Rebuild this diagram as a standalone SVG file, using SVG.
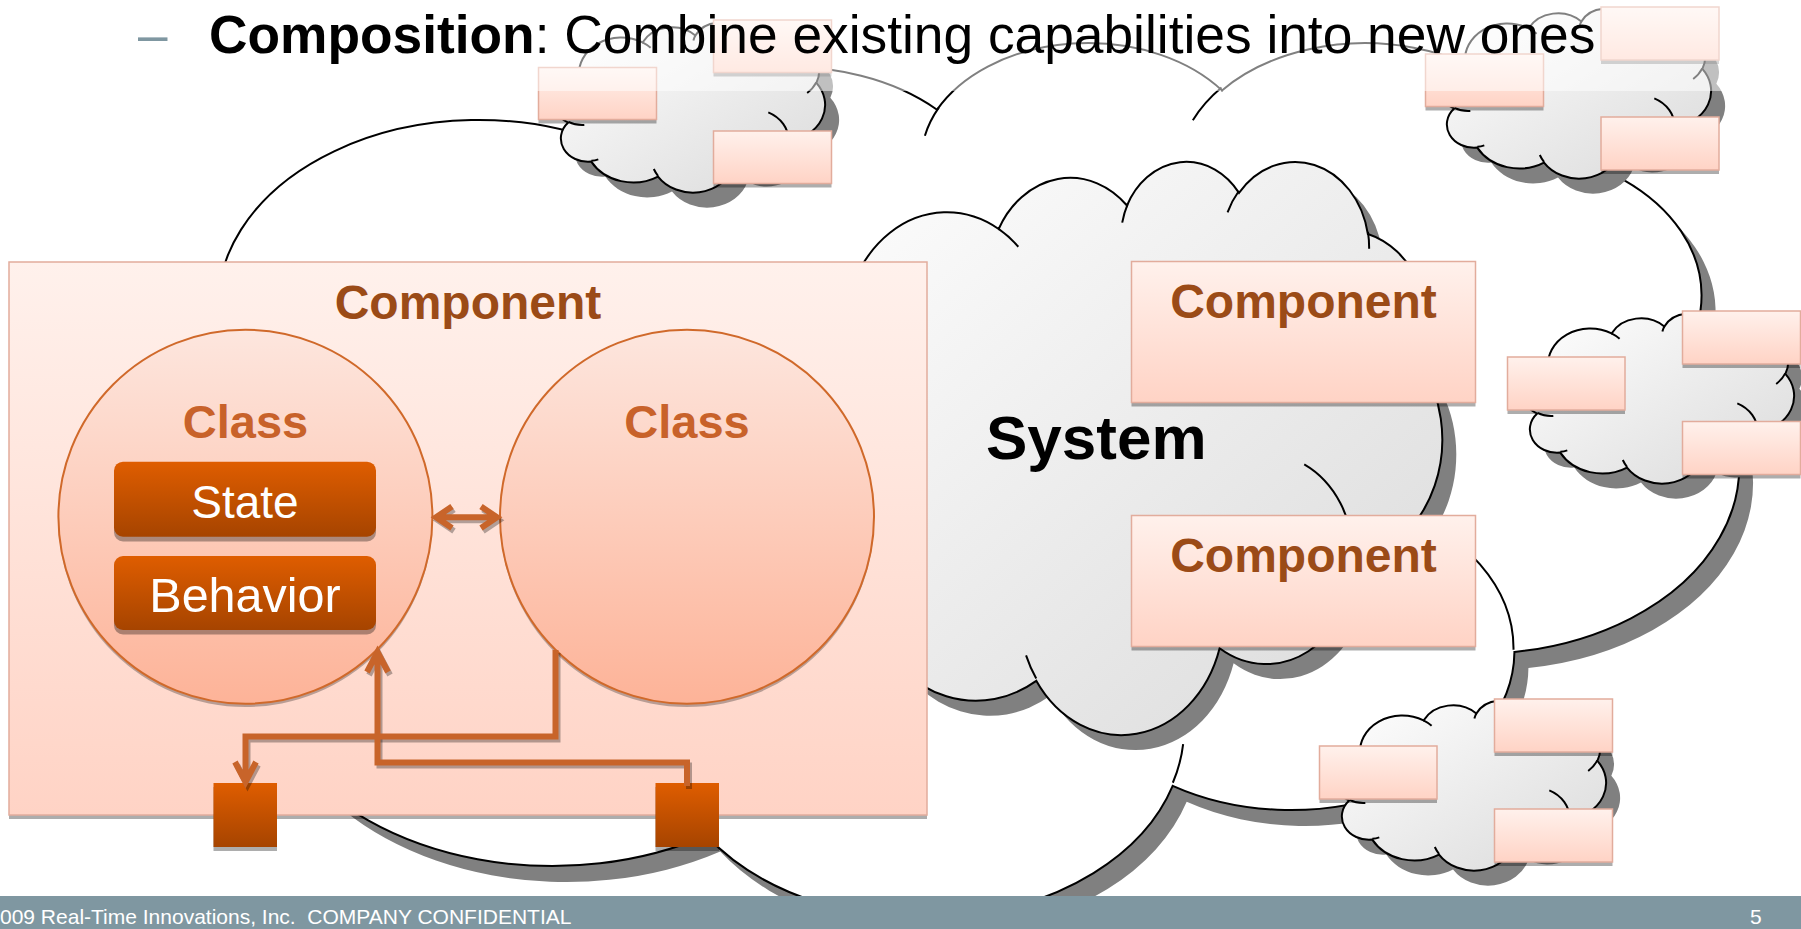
<svg xmlns="http://www.w3.org/2000/svg" width="1801" height="929" viewBox="0 0 1801 929">
<style>
  text{font-family:"Liberation Sans",Arial,sans-serif}
  .cl{stroke:#000;stroke-width:2}
  .tk{fill:none;stroke:#000;stroke-width:2}
  .sh{fill:#808080}
  .rs{fill:#000;opacity:.32}
  .sr{fill:url(#gRect);stroke:#e2ac9c;stroke-width:1.5}
  .comp{font-weight:bold;font-size:48px;fill:#9b4b17;text-anchor:middle}
  .cls{font-weight:bold;font-size:47px;fill:#c8622a;text-anchor:middle}
  .wt{font-size:46px;fill:#fff;text-anchor:middle}
  .con{fill:none;stroke:#c8642a;stroke-width:6;stroke-linejoin:miter}
  .cons{fill:none;stroke:#000;stroke-opacity:.3;stroke-width:6}
</style>
<defs>
  <linearGradient id="gCloud" x1="0" y1="0" x2="1" y2="1"><stop offset="0" stop-color="#ffffff"/><stop offset="1" stop-color="#dadada"/></linearGradient>
  <linearGradient id="gRect" x1="0" y1="0" x2="0" y2="1"><stop offset="0" stop-color="#fff1ec"/><stop offset="1" stop-color="#ffd3c5"/></linearGradient>
  <linearGradient id="gCirc" x1="0" y1="0" x2="0" y2="1"><stop offset="0" stop-color="#fde6de"/><stop offset="1" stop-color="#fdb398"/></linearGradient>
  <linearGradient id="gDark" x1="0" y1="0" x2="0" y2="1"><stop offset="0" stop-color="#df5d00"/><stop offset="1" stop-color="#a64400"/></linearGradient>
  <path id="cp" vector-effect="non-scaling-stroke" d="M3900,14370 A6753,9190 0 0 1 14005,5202 A5333,7267 0 0 1 22456,3431 A4365,5945 0 0 1 29832,2478 A4857,6595 0 0 1 38317,5574 A5333,7273 0 0 1 41817,15458 A6775,9220 0 0 1 37404,30203 A5785,7867 0 0 1 28556,36813 A6752,9215 0 0 1 16481,39266 A7720,10543 0 0 1 5805,35472 A4360,5918 0 0 1 2113,25551 A4345,5945 0 0 1 3900,14370 Z"/>
  <path id="tk" vector-effect="non-scaling-stroke" d="M4693,26177 A4345,5945 0 0 1 2160,25380 M6928,34899 A4360,5918 0 0 1 5820,35281 M16478,39090 A6752,9215 0 0 1 15809,37348 M28827,34751 A6752,9215 0 0 1 28560,36660 M34129,22954 A5785,7867 0 0 1 37380,30090 M41798,15354 A5333,7273 0 0 1 40350,18030 M38324,5426 A4857,6595 0 0 1 38401,6690 M29078,3952 A4857,6595 0 0 1 29820,2340 M22141,4720 A4365,5945 0 0 1 22500,3331 M14000,5192 A6753,9190 0 0 1 15300,6541 M4127,15789 A6753,9190 0 0 1 3900,14371"/>
</defs>

<rect width="1801" height="929" fill="#fff"/>

<g id="outer-cloud">
  <use href="#cp" class="sh" transform="translate(83.7,56.2) scale(0.038625,0.020255)"/>
  <use href="#cp" class="cl" fill="#fff" transform="translate(69.7,40.2) scale(0.038625,0.020255)"/>
  <use href="#tk" class="tk" transform="translate(69.7,40.2) scale(0.038625,0.020255)"/>
</g>

<g id="system-cloud">
  <use href="#cp" class="sh" transform="translate(800,175) scale(0.015185,0.013264)"/>
  <use href="#cp" class="cl" fill="url(#gCloud)" transform="translate(786,160) scale(0.015185,0.013264)"/>
  <use href="#tk" class="tk" transform="translate(786,160) scale(0.015185,0.013264)"/>
  <text x="986" y="459" font-size="62" font-weight="bold" fill="#000">System</text>
</g>

<g id="cloud-a">
  <use href="#cp" class="sh" transform="translate(569,37) scale(0.00625,0.0039352)"/>
  <use href="#cp" class="cl" fill="url(#gCloud)" transform="translate(555,22) scale(0.00625,0.0039352)"/>
  <use href="#tk" class="tk" transform="translate(555,22) scale(0.00625,0.0039352)"/>
  <rect x="538.5" y="71.5" width="118" height="52" class="rs"/>
  <rect x="538.5" y="67.5" width="118" height="52" class="sr"/>
  <rect x="713.5" y="24" width="118" height="52.5" class="rs"/>
  <rect x="713.5" y="20" width="118" height="52.5" class="sr"/>
  <rect x="713.5" y="135" width="118" height="52.5" class="rs"/>
  <rect x="713.5" y="131" width="118" height="52.5" class="sr"/>
</g>

<g id="cloud-b">
  <use href="#cp" class="sh" transform="translate(1455,23) scale(0.00625,0.0039352)"/>
  <use href="#cp" class="cl" fill="url(#gCloud)" transform="translate(1441,8) scale(0.00625,0.0039352)"/>
  <use href="#tk" class="tk" transform="translate(1441,8) scale(0.00625,0.0039352)"/>
  <rect x="1425.5" y="58" width="118" height="52.5" class="rs"/>
  <rect x="1425.5" y="54" width="118" height="52.5" class="sr"/>
  <rect x="1601" y="11" width="118" height="53" class="rs"/>
  <rect x="1601" y="7" width="118" height="53" class="sr"/>
  <rect x="1601" y="121" width="118" height="53" class="rs"/>
  <rect x="1601" y="117" width="118" height="53" class="sr"/>
</g>

<g id="cloud-c">
  <use href="#cp" class="sh" transform="translate(1538,328) scale(0.00625,0.0039352)"/>
  <use href="#cp" class="cl" fill="url(#gCloud)" transform="translate(1524,313) scale(0.00625,0.0039352)"/>
  <use href="#tk" class="tk" transform="translate(1524,313) scale(0.00625,0.0039352)"/>
  <rect x="1507.5" y="361" width="117.5" height="53" class="rs"/>
  <rect x="1507.5" y="357" width="117.5" height="53" class="sr"/>
  <rect x="1682.5" y="315" width="118" height="53" class="rs"/>
  <rect x="1682.5" y="311" width="118" height="53" class="sr"/>
  <rect x="1682.5" y="425.5" width="118" height="53" class="rs"/>
  <rect x="1682.5" y="421.5" width="118" height="53" class="sr"/>
</g>

<g id="cloud-d">
  <use href="#cp" class="sh" transform="translate(1350,715) scale(0.00625,0.0039352)"/>
  <use href="#cp" class="cl" fill="url(#gCloud)" transform="translate(1336,700) scale(0.00625,0.0039352)"/>
  <use href="#tk" class="tk" transform="translate(1336,700) scale(0.00625,0.0039352)"/>
  <rect x="1319.5" y="750" width="117.5" height="53" class="rs"/>
  <rect x="1319.5" y="746" width="117.5" height="53" class="sr"/>
  <rect x="1494.5" y="703" width="118" height="53" class="rs"/>
  <rect x="1494.5" y="699" width="118" height="53" class="sr"/>
  <rect x="1494.5" y="813" width="118" height="53" class="rs"/>
  <rect x="1494.5" y="809" width="118" height="53" class="sr"/>
</g>

<g id="component-upper">
  <rect x="1131.5" y="265.5" width="344" height="141" class="rs"/>
  <rect x="1131.5" y="261.5" width="344" height="141" class="sr"/>
  <text x="1303.5" y="318" class="comp">Component</text>
</g>

<g id="component-lower">
  <rect x="1131.5" y="519.5" width="344" height="131" class="rs"/>
  <rect x="1131.5" y="515.5" width="344" height="131" class="sr"/>
  <text x="1303.5" y="571.5" class="comp">Component</text>
</g>

<g id="component-left">
  <rect x="9" y="266" width="918" height="553" class="rs"/>
  <rect x="9" y="262" width="918" height="553" class="sr"/>
  <text x="468" y="319" class="comp">Component</text>
</g>

<g id="class-left">
  <circle cx="245.4" cy="520" r="187" fill="#000" opacity=".28"/>
  <circle cx="245.4" cy="516.7" r="187" fill="url(#gCirc)" stroke="#d0692a" stroke-width="2"/>
  <text x="245.5" y="438" class="cls">Class</text>
</g>

<g id="class-right">
  <circle cx="687" cy="520" r="187" fill="#000" opacity=".28"/>
  <circle cx="687" cy="516.7" r="187" fill="url(#gCirc)" stroke="#d0692a" stroke-width="2"/>
  <text x="687" y="438" class="cls">Class</text>
</g>

<g id="state">
  <rect x="114" y="466.5" width="262" height="75" rx="9" fill="#000" opacity=".32"/>
  <rect x="114" y="461.7" width="262" height="75" rx="9" fill="url(#gDark)"/>
  <text x="245" y="518" class="wt" font-size="47">State</text>
</g>

<g id="behavior">
  <rect x="114" y="560.5" width="262" height="74" rx="9" fill="#000" opacity=".32"/>
  <rect x="114" y="556" width="262" height="74" rx="9" fill="url(#gDark)"/>
  <text x="245" y="612" class="wt" style="font-size:48.5px">Behavior</text>
</g>

<g id="port-left">
  <rect x="213.5" y="787" width="63.5" height="64" fill="#000" opacity=".32"/>
  <rect x="213.5" y="783" width="63.5" height="64" fill="url(#gDark)"/>
</g>

<g id="port-right">
  <rect x="655.5" y="787" width="63.5" height="64" fill="#000" opacity=".32"/>
  <rect x="655.5" y="783" width="63.5" height="64" fill="url(#gDark)"/>
</g>

<g id="connectors">
  <g transform="translate(2,3)" class="cons">
    <path d="M436,517.3 H497 M452,506.5 L436,517.3 L452,528 M481,506.5 L497,517.3 L481,528"/>
    <path d="M555.5,650 V736.5 H245.5 V781 M235,762 L245.5,782 L256,762"/>
    <path d="M687,786 V762.5 H377.5 V653 M367,672 L377.5,652 L388,672"/>
  </g>
  <g class="con">
    <path d="M436,517.3 H497 M452,506.5 L436,517.3 L452,528 M481,506.5 L497,517.3 L481,528"/>
    <path d="M555.5,650 V736.5 H245.5 V781 M235,762 L245.5,782 L256,762"/>
    <path d="M687,786 V762.5 H377.5 V653 M367,672 L377.5,652 L388,672"/>
  </g>
</g>

<rect x="0" y="0" width="1801" height="91" fill="#fff" opacity=".5"/>

<g id="title">
  <text x="138" y="53" font-size="53" fill="#7f97a1">–</text>
  <text x="209" y="53" font-size="53.3" fill="#000"><tspan font-weight="bold">Composition</tspan>: Combine existing capabilities into new ones</text>
</g>

<g id="footer">
  <rect x="0" y="896" width="1801" height="33" fill="#7f97a1"/>
  <text x="0" y="924" font-size="21" fill="#fff" xml:space="preserve">009 Real-Time Innovations, Inc.  COMPANY CONFIDENTIAL</text>
  <text x="1750" y="924" font-size="21" fill="#fff">5</text>
</g>
</svg>
